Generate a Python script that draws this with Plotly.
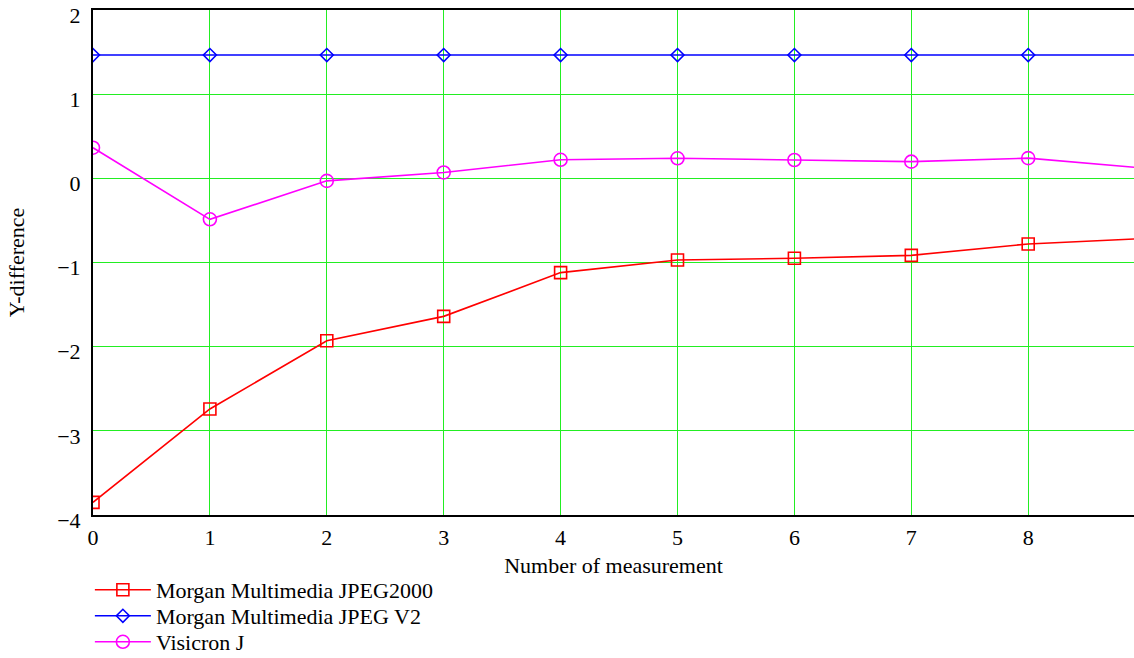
import plotly.graph_objects as go

measurements = [0, 1, 2, 3, 4, 5, 6, 7, 8, 9]
jpeg2000 = [-3.85, -2.74, -1.93, -1.64, -1.12, -0.97, -0.95, -0.915, -0.78, -0.715]
jpeg_v2 = [1.465, 1.465, 1.465, 1.465, 1.465, 1.465, 1.465, 1.465, 1.465, 1.465]
visicron = [0.364, -0.487, -0.03, 0.07, 0.22, 0.238, 0.218, 0.198, 0.24, 0.12]

names = ["Morgan Multimedia JPEG2000", "Morgan Multimedia JPEG V2", "Visicron J"]
colors = ["#ff0000", "#0000ff", "#ff00ff"]
symbols = ["square-open", "diamond-open", "circle-open"]
sizes = [12, 10, 13]

x_ticks = [0, 1, 2, 3, 4, 5, 6, 7, 8]
y_ticks = [-4, -3, -2, -1, 0, 1, 2]
y_ticktext = ["\u22124", "\u22123", "\u22122", "\u22121", "0", "1", "2"]

font_family = "Liberation Serif, Times New Roman, serif"
fs = 22

legend_ids = ["legend", "legend2", "legend3"]
legend_ys = [-0.1485, -0.2, -0.2515]

fig = go.Figure()
for name, ys, c, s, sz, lid in zip(names, [jpeg2000, jpeg_v2, visicron], colors, symbols, sizes, legend_ids):
    fig.add_trace(go.Scatter(
        x=measurements, y=ys, name=name, mode="lines+markers",
        line=dict(color=c, width=1.6),
        marker=dict(symbol=s, size=sz, color=c, line=dict(color=c, width=1.6)),
        legend=lid,
    ))

legend_layout = {}
for lid, ly in zip(legend_ids, legend_ys):
    legend_layout[lid] = dict(
        x=-0.003, y=ly, xanchor="left", yanchor="middle",
        orientation="v", bgcolor="rgba(0,0,0,0)",
        font=dict(family=font_family, size=fs),
        itemwidth=56,
    )

fig.update_layout(
    width=1134, height=658,
    margin=dict(l=93, r=0, t=10, b=143, autoexpand=False),
    paper_bgcolor="white", plot_bgcolor="white",
    font=dict(family=font_family, size=fs, color="black"),
    showlegend=True,
    **legend_layout,
)
fig.update_xaxes(
    range=[0, 8.905], tickvals=x_ticks, ticktext=[str(v) for v in x_ticks],
    showgrid=True, gridcolor="#22ee22", gridwidth=1,
    zeroline=False, showline=True, linecolor="black", linewidth=2, mirror=True,
    ticks="", ticklabelstandoff=2, ticklabeloverflow="allow",
    title=dict(text="Number of measurement", font=dict(family=font_family, size=fs), standoff=8),
)
fig.update_yaxes(
    range=[-4, 2], tickvals=y_ticks, ticktext=y_ticktext,
    showgrid=True, gridcolor="#22ee22", gridwidth=1,
    zeroline=False, showline=True, linecolor="black", linewidth=2, mirror=True,
    ticks="", ticklabelstandoff=6, ticklabeloverflow="allow", ticklabelshift=5,
    title=dict(text="Y-difference", font=dict(family=font_family, size=fs), standoff=26),
)

fig.write_html("out.html", config={"displayModeBar": False},
               post_script="document.body.style.margin='0';document.body.style.overflow='hidden';")
